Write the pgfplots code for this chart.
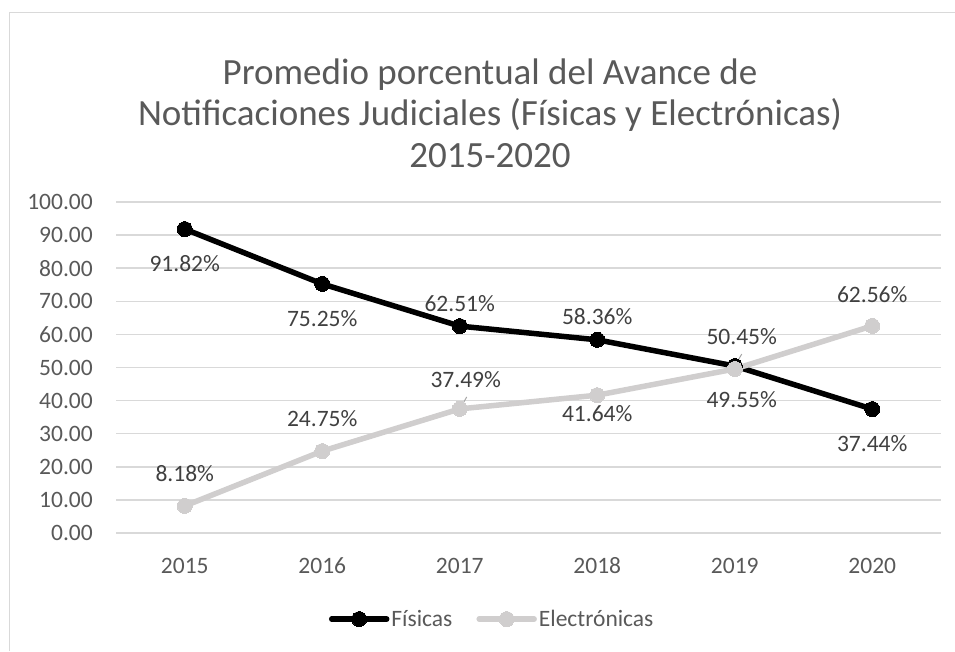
\documentclass[border=0pt]{standalone}
\usepackage{pgfplots}
\usepackage{pgfplotstable}
\pgfplotsset{compat=1.18}
\usepackage{fontspec}
\setmainfont{Carlito}
\definecolor{txt}{HTML}{595959}
\definecolor{lbl}{HTML}{404040}
\definecolor{gridc}{HTML}{D9D9D9}
\definecolor{elec}{HTML}{D0CECE}
\definecolor{leader}{HTML}{A6A6A6}

\pgfplotstableread{
x y dx dy
0 91.82 0 -34
1 75.25 0 -35
2 62.51 0 23
3 58.36 0 23
4 50.45 7 29
5 37.44 0 -35
}\fisicas

\pgfplotstableread{
x y dx dy
0 8.18 0 32
1 24.75 0 32
2 37.49 6 29
3 41.64 0 -18
4 49.55 7 -31
5 62.56 0 31
}\electronicas

\begin{document}
\begin{tikzpicture}
\path[use as bounding box] (0pt,0pt) rectangle (955pt,651pt);
\draw[gridc, line width=1.5pt] (9.5pt,0pt) -- (9.5pt,638.5pt) -- (960pt,638.5pt);
\node[text=txt, font=\fontsize{37}{41.5}\selectfont, align=center] at (490pt,538pt) {Promedio porcentual del Avance de\\Notificaciones Judiciales (Físicas y Electrónicas)\\2015-2020};
\begin{axis}[
  at={(116pt,118pt)}, anchor=south west,
  width=825pt, height=331pt, scale only axis,
  xmin=-0.5, xmax=5.5, ymin=0, ymax=100,
  axis line style={draw=none},
  major tick length=0pt,
  ymajorgrids, grid style={gridc, line width=1.4pt},
  ytick={0,10,...,100},
  xtick={0,1,2,3,4,5},
  xticklabels={2015,2016,2017,2018,2019,2020},
  /pgf/number format/assume math mode=true,
  yticklabel={\pgfmathprintnumber[fixed,fixed zerofill,precision=2]{\tick}},
  tick label style={text=txt, font=\fontsize{23.5}{28}\selectfont},
  yticklabel style={inner sep=0pt, anchor=east, xshift=-23pt},
  xticklabel style={inner sep=0pt, anchor=base, yshift=-40.5pt},
  clip=false,
  legend columns=2,
  legend style={at={(0.456,-0.26)}, anchor=center, draw=none, fill=none,
    font=\fontsize{23.5}{28}\selectfont, text=txt,
    /tikz/every even column/.append style={column sep=22pt}},
  legend image code/.code={
    \draw[#1, mark=none] (0pt,0pt) -- (55pt,0pt);
    \draw[#1, only marks] plot coordinates {(27.5pt,0pt)};
  },
  nodes near coords={\pgfmathprintnumber[fixed,fixed zerofill,precision=2]{\pgfplotspointmeta}\%},
  every node near coord/.append style={anchor=center, text=lbl,
    font=\fontsize{23.5}{28}\selectfont, xshift=\ldx pt, yshift=\ldy pt},
]
\addplot[black, line width=5.5pt, line join=round, line cap=round,
  mark=*, mark size=7.5pt, mark options={fill=black, draw=black, line width=0pt},
  point meta=explicit,
  visualization depends on={\thisrow{dx} \as \ldx},
  visualization depends on={\thisrow{dy} \as \ldy}]
  table[x=x, y=y, meta=y] {\fisicas};
\addlegendentry{Físicas}
\addplot[elec, line width=5.5pt, line join=round, line cap=round,
  mark=*, mark size=7.5pt, mark options={fill=elec, draw=elec, line width=0pt},
  point meta=explicit,
  visualization depends on={\thisrow{dx} \as \ldx},
  visualization depends on={\thisrow{dy} \as \ldy}]
  table[x=x, y=y, meta=y] {\electronicas};
\addlegendentry{Electrónicas}
\draw[leader, line width=1pt] (axis cs:2,37.49) ++(3pt,5pt) -- ++(4pt,7pt);
\draw[leader, line width=1pt] (axis cs:4,50.45) ++(3pt,5pt) -- ++(4pt,7pt);
\end{axis}
\end{tikzpicture}
\end{document}
